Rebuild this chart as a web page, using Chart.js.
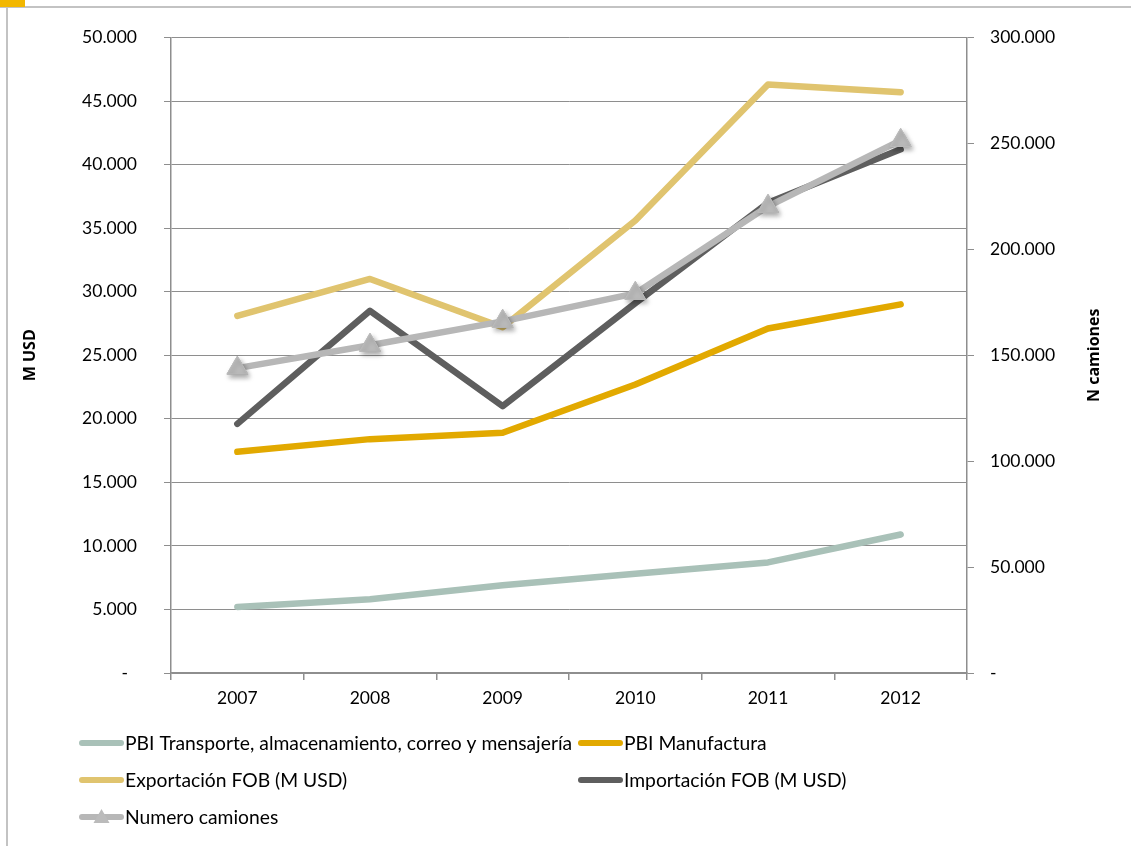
<!DOCTYPE html>
<html>
<head>
<meta charset="utf-8">
<script src="https://cdn.jsdelivr.net/npm/chart.js@4"></script>
<style>
  html, body { margin: 0; padding: 0; background: #fff; }
  #wrap { position: relative; width: 1131px; height: 846px; overflow: hidden; }
  #frameTop { position: absolute; left: 0; top: 6px; width: 1131px; height: 2px; background: #c3c3c3; }
  #frameLeft { position: absolute; left: 6px; top: 6px; width: 2px; height: 840px; background: #c3c3c3; }
  #corner { position: absolute; left: 0; top: 0; width: 25px; height: 7px; background: #f2b700; }
  canvas { position: absolute; left: 0; top: 0; }
</style>
</head>
<body>
<div id="wrap">
  <div id="frameTop"></div>
  <div id="frameLeft"></div>
  <div id="corner"></div>
  <canvas id="chart" width="1131" height="846"></canvas>
</div>
<script>
const years = ['2007', '2008', '2009', '2010', '2011', '2012'];

// M USD (eje izquierdo)
const pbiTransporte = [5200, 5800, 6900, 7800, 8700, 10900];
const pbiManufactura = [17400, 18400, 18900, 22700, 27100, 29000];
const exportacionFob = [28100, 31000, 27200, 35600, 46300, 45700];
const importacionFob = [19600, 28500, 21000, 29100, 37000, 41200];

// N camiones (eje derecho)
const numeroCamiones = [143900, 154700, 166000, 179200, 220300, 251400];

// rangos de los ejes
const leftAxis = { min: 0, max: 50000, step: 5000, title: 'M USD' };
const rightAxis = { min: 0, max: 300000, step: 50000, title: 'N camiones' };

const FONT = 'Lato, "Open Sans", sans-serif';
const TITLE_FONT = '"Open Sans", "DejaVu Sans", sans-serif';
const GRID = '#8e8e8e';

Chart.defaults.font.family = FONT;
Chart.defaults.font.size = 17.5;
Chart.defaults.color = '#000';

function miles(v) {
    if (v === 0) return '-';
    return String(v).replace(/\B(?=(\d{3})+(?!\d))/g, '.');
}

// leyenda en dos columnas, como la del informe
const legendPlugin = {
    id: 'legendCols',
    afterDraw(chart) {
        const ctx = chart.ctx;
        const x0 = 79, colW = 499, y0 = 743, rowH = 37, sw = 45;
        ctx.save();
        ctx.font = '19.3px ' + FONT;
        ctx.textBaseline = 'middle';
        chart.data.datasets.forEach((ds, i) => {
            const x = x0 + (i % 2) * colW;
            const y = y0 + Math.floor(i / 2) * rowH;
            ctx.strokeStyle = ds.borderColor;
            ctx.lineWidth = 6;
            ctx.lineCap = 'round';
            ctx.beginPath();
            ctx.moveTo(x + 3, y);
            ctx.lineTo(x + sw - 3, y);
            ctx.stroke();
            if (ds.pointStyle === 'triangle') {
                ctx.fillStyle = ds.pointBackgroundColor;
                ctx.beginPath();
                ctx.moveTo(x + sw / 2, y - 8);
                ctx.lineTo(x + sw / 2 + 8, y + 6);
                ctx.lineTo(x + sw / 2 - 8, y + 6);
                ctx.closePath();
                ctx.fill();
            }
            ctx.fillStyle = '#000';
            ctx.fillText(ds.label, x + sw + 1, y + 1);
        });
        ctx.restore();
    }
};

// títulos de ambos ejes verticales, girados de abajo hacia arriba
const axisTitlePlugin = {
    id: 'axisTitles',
    afterDraw(chart) {
        const ctx = chart.ctx;
        const area = chart.chartArea;
        const midY = (area.top + area.bottom) / 2;
        ctx.save();
        ctx.font = 'bold 16px ' + TITLE_FONT;
        ctx.fillStyle = '#000';
        ctx.textAlign = 'center';
        ctx.textBaseline = 'middle';
        [[30, leftAxis.title], [1094, rightAxis.title]].forEach(([x, text]) => {
            ctx.save();
            ctx.translate(x, midY);
            ctx.rotate(-Math.PI / 2);
            ctx.fillText(text, 0, 0);
            ctx.restore();
        });
        ctx.restore();
    }
};

// sombra suave bajo los triángulos de la serie de camiones
const markerShadowPlugin = {
    id: 'markerShadow',
    afterDatasetDraw(chart, args) {
        const ds = chart.data.datasets[args.index];
        if (ds.pointStyle !== 'triangle') return;
        const ctx = chart.ctx;
        ctx.save();
        ctx.shadowColor = 'rgba(0, 0, 0, 0.35)';
        ctx.shadowBlur = 5;
        ctx.shadowOffsetX = 2;
        ctx.shadowOffsetY = 3;
        args.meta.data.forEach(pt => pt.draw(ctx, chart.chartArea));
        ctx.restore();
    }
};

function serie(label, data, color, order, extra = {}) {
    return Object.assign({
        label: label,
        data: data,
        borderColor: color,
        backgroundColor: color,
        borderWidth: 6.5,
        borderCapStyle: 'round',
        borderJoinStyle: 'round',
        tension: 0,
        pointRadius: 0,
        pointHoverRadius: 0,
        fill: false,
        yAxisID: 'y',
        order: order
    }, extra);
}

new Chart(document.getElementById('chart'), {
    type: 'line',
    data: {
        labels: years,
        datasets: [
            serie('PBI Transporte, almacenamiento, correo y mensajería', pbiTransporte, '#a9c1b8', 5),
            serie('PBI Manufactura', pbiManufactura, '#e2a900', 4),
            serie('Exportación FOB (M USD)', exportacionFob, '#e0c46f', 3),
            serie('Importación FOB (M USD)', importacionFob, '#5e5e5e', 2),
            serie('Numero camiones', numeroCamiones, '#b7b7b7', 1, {
                yAxisID: 'y1',
                pointStyle: 'triangle',
                pointRadius: 12,
                pointBackgroundColor: '#bbbbbb',
                pointBorderColor: '#bbbbbb',
                pointBorderWidth: 1
            })
        ]
    },
    options: {
        responsive: false,
        animation: false,
        events: [],
        layout: { padding: { top: 37, left: 0, right: 0, bottom: 0 } },
        plugins: {
            legend: { display: false },
            tooltip: { enabled: false }
        },
        scales: {
            x: {
                offset: true,
                afterFit: s => { s.height = 173; },
                grid: {
                    offset: true,
                    drawOnChartArea: false,
                    drawTicks: true,
                    tickLength: 7,
                    color: GRID,
                    lineWidth: 1.5
                },
                border: { color: GRID, width: 1.5 },
                ticks: { padding: 8, maxRotation: 0, color: '#000' }
            },
            y: {
                position: 'left',
                min: leftAxis.min,
                max: leftAxis.max,
                afterFit: s => { s.width = 171; },
                grid: { color: GRID, lineWidth: 1, tickLength: 7 },
                border: { color: GRID, width: 1.5 },
                ticks: {
                    stepSize: leftAxis.step,
                    padding: 27,
                    color: '#000',
                    callback: v => v === 0 ? '-  ' : miles(v)
                }
            },
            y1: {
                position: 'right',
                min: rightAxis.min,
                max: rightAxis.max,
                afterFit: s => { s.width = 164; },
                grid: { drawOnChartArea: false, color: GRID, lineWidth: 1, tickLength: 7 },
                border: { color: GRID, width: 1.5 },
                ticks: {
                    stepSize: rightAxis.step,
                    padding: 16,
                    color: '#000',
                    callback: v => miles(v)
                }
            }
        }
    },
    plugins: [markerShadowPlugin, axisTitlePlugin, legendPlugin]
});
</script>
</body>
</html>
